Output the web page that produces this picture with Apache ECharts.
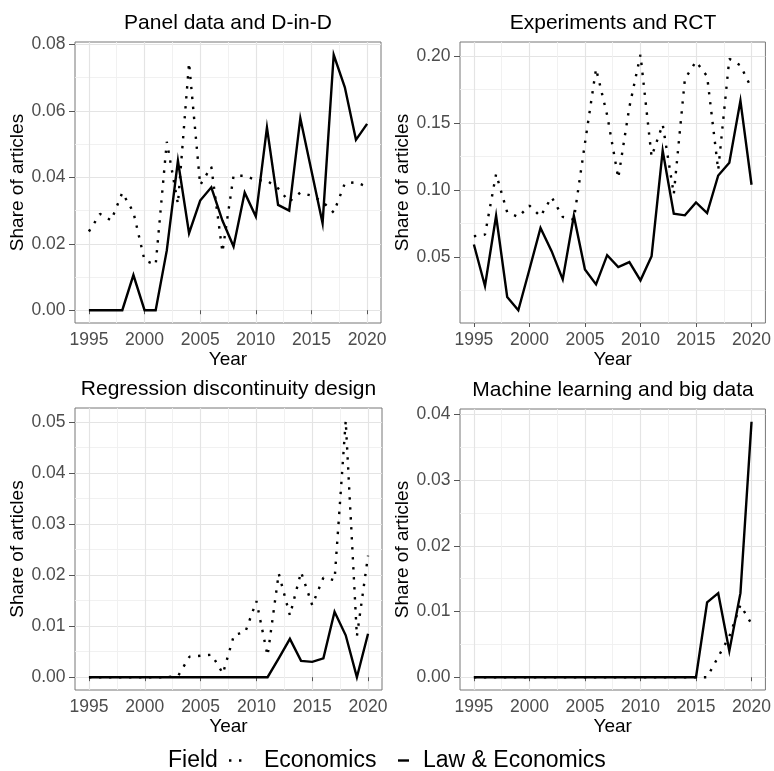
<!DOCTYPE html>
<html>
<head>
<meta charset="utf-8">
<script src="https://cdn.jsdelivr.net/npm/echarts@6/dist/echarts.min.js"></script>
<style>
  html, body { margin: 0; padding: 0; background: #ffffff; }
  #chart { width: 774px; height: 771px; }
</style>
</head>
<body>
<div id="chart"></div>
<script>
// Publication years shared by every panel
const years = [1995, 1996, 1997, 1998, 1999, 2000, 2001, 2002, 2003, 2004, 2005, 2006, 2007,
               2008, 2009, 2010, 2011, 2012, 2013, 2014, 2015, 2016, 2017, 2018, 2019, 2020];

// Year ticks (labelled) and the in-between grid lines
const yearTicks = [1995, 2000, 2005, 2010, 2015, 2020];
const yearMinorTicks = [1997.5, 2002.5, 2007.5, 2012.5, 2017.5];

// Panel data and D-in-D
const panelEcon = [0.0237, 0.0290, 0.0270, 0.0354, 0.0295, 0.0150, 0.0137, 0.0507, 0.0320, 0.0745,
                   0.0377, 0.0432, 0.0175, 0.0405, 0.0405, 0.0392, 0.0390, 0.0367, 0.0327, 0.0354,
                   0.0345, 0.0327, 0.0294, 0.0382, 0.0385, 0.0372];
const panelLaw  = [0, 0, 0, 0, 0.0106, 0, 0, 0.0180, 0.0450, 0.0232,
                   0.0330, 0.0370, 0.0270, 0.0192, 0.0354, 0.0282, 0.0550, 0.0317, 0.0300, 0.0578,
                   0.0420, 0.0262, 0.0769, 0.0671, 0.0513, 0.0561];
const panelTicks = [0, 0.02, 0.04, 0.06, 0.08];
const panelMinorTicks = [0.01, 0.03, 0.05, 0.07];

// Experiments and RCT
const rctEcon = [0.0656, 0.0668, 0.1120, 0.0835, 0.0800, 0.0885, 0.0804, 0.0948, 0.0800, 0.0780,
                 0.1350, 0.1906, 0.1560, 0.1090, 0.1620, 0.2010, 0.1250, 0.1490, 0.0970, 0.1830,
                 0.1960, 0.1850, 0.1150, 0.1980, 0.1930, 0.1760];
const rctLaw  = [0.0594, 0.0285, 0.0809, 0.0203, 0.0104, 0.0408, 0.0718, 0.0545, 0.0334, 0.0809,
                 0.0408, 0.0297, 0.0515, 0.0426, 0.0463, 0.0327, 0.0507, 0.1294, 0.0824, 0.0812,
                 0.0908, 0.0829, 0.1109, 0.1205, 0.1666, 0.1040];
const rctTicks = [0.05, 0.10, 0.15, 0.20];
const rctMinorTicks = [0.025, 0.075, 0.125, 0.175];

// Regression discontinuity design
const rddEcon = [0, 0, 0, 0, 0, 0, 0, 0, 0.0003, 0.0040,
                 0.0042, 0.0044, 0.0007, 0.0083, 0.0088, 0.0149, 0.0042, 0.0203, 0.0121, 0.0206,
                 0.0141, 0.0195, 0.0190, 0.0502, 0.0080, 0.0238];
const rddLaw  = [0, 0, 0, 0, 0, 0, 0, 0, 0, 0,
                 0, 0, 0, 0, 0, 0, 0, 0.0037, 0.0075, 0.0032,
                 0.0030, 0.0037, 0.0128, 0.0082, 0, 0.0085];
const rddTicks = [0, 0.01, 0.02, 0.03, 0.04, 0.05];
const rddMinorTicks = [0.005, 0.015, 0.025, 0.035, 0.045];

// Machine learning and big data
const mlEcon = [0, 0, 0, 0, 0, 0, 0, 0, 0, 0,
                0, 0, 0, 0, 0, 0, 0, 0, 0, 0,
                0, 0, 0.0031, 0.0062, 0.0110, 0.0081];
const mlLaw  = [0, 0, 0, 0, 0, 0, 0, 0, 0, 0,
                0, 0, 0, 0, 0, 0, 0, 0, 0, 0,
                0, 0.0114, 0.0128, 0.0040, 0.0128, 0.0389];
const mlTicks = [0, 0.01, 0.02, 0.03, 0.04];
const mlMinorTicks = [0.005, 0.015, 0.025, 0.035];

const panelTitles = ['Panel data and D-in-D', 'Experiments and RCT',
                     'Regression discontinuity design', 'Machine learning and big data'];
const seriesNames = ['Economics', 'Law & Economics'];
const legendTitle = 'Field';
const xTitle = 'Year';
const yTitle = 'Share of articles';

const panels = [
  { title: panelTitles[0], econ: panelEcon, law: panelLaw, ticks: panelTicks, minor: panelMinorTicks },
  { title: panelTitles[1], econ: rctEcon, law: rctLaw, ticks: rctTicks, minor: rctMinorTicks },
  { title: panelTitles[2], econ: rddEcon, law: rddLaw, ticks: rddTicks, minor: rddMinorTicks },
  { title: panelTitles[3], econ: mlEcon, law: mlLaw, ticks: mlTicks, minor: mlMinorTicks }
];

// Plot-area rectangles of the 2x2 layout
const boxes = [
  { left: 75,  top: 42,  width: 306, height: 281 },
  { left: 460, top: 42,  width: 306, height: 281 },
  { left: 75,  top: 408, width: 307, height: 282 },
  { left: 460, top: 409, width: 306, height: 281 }
];

const FONT = '"Liberation Sans", Arial, Helvetica, sans-serif';
const MAJOR_GRID = { color: '#e4e4e4', width: 1.2 };
const MINOR_GRID = { color: '#efefef', width: 0.9 };
const DOT = 2.4;

// 5% padding on each side of the data range, like a ggplot continuous scale
function padded(lo, hi) {
  const pad = (hi - lo) * 0.05;
  return [lo - pad, hi + pad];
}
const [xMin, xMax] = padded(Math.min(...years), Math.max(...years));

const option = {
  animation: false,
  backgroundColor: '#ffffff',
  textStyle: { fontFamily: FONT },
  title: [],
  grid: [],
  xAxis: [],
  yAxis: [],
  series: [],
  legend: []
};

panels.forEach((p, i) => {
  const b = boxes[i];
  const all = p.econ.concat(p.law);
  const [yMin, yMax] = padded(Math.min(...all), Math.max(...all));

  option.title.push({
    text: p.title,
    left: b.left + b.width / 2,
    top: b.top - 29.5,
    textAlign: 'center',
    padding: 0,
    textStyle: { fontFamily: FONT, fontSize: 21, fontWeight: 'normal', color: '#000000' }
  });

  option.grid.push({
    left: b.left, top: b.top, width: b.width, height: b.height,
    show: true, borderColor: '#777777', borderWidth: 1, backgroundColor: 'transparent',
    containLabel: false
  });

  // minor vertical grid lines
  option.xAxis.push({
    type: 'value', gridIndex: i, position: 'bottom', offset: 0, min: xMin, max: xMax,
    axisLine: { show: false },
    axisTick: { show: false, customValues: yearMinorTicks },
    axisLabel: { show: false, customValues: yearMinorTicks },
    splitLine: { show: true, lineStyle: MINOR_GRID }
  });
  const xIdx = option.xAxis.length;
  option.xAxis.push({
    type: 'value', gridIndex: i, position: 'bottom', offset: 0, min: xMin, max: xMax,
    name: xTitle, nameLocation: 'middle', nameGap: 27,
    nameTextStyle: { fontFamily: FONT, fontSize: 19, color: '#000000' },
    axisLine: { show: false },
    axisTick: { show: true, length: 4, customValues: yearTicks, lineStyle: { color: '#555555', width: 1 } },
    axisLabel: {
      customValues: yearTicks, color: '#4d4d4d', fontSize: 17.5, margin: 8, fontFamily: FONT,
      formatter: v => String(v)
    },
    splitLine: { show: true, lineStyle: MAJOR_GRID }
  });

  // minor horizontal grid lines
  option.yAxis.push({
    type: 'value', gridIndex: i, position: 'left', offset: 0, min: yMin, max: yMax,
    axisLine: { show: false },
    axisTick: { show: false, customValues: p.minor },
    axisLabel: { show: false, customValues: p.minor },
    splitLine: { show: true, lineStyle: MINOR_GRID }
  });
  const yIdx = option.yAxis.length;
  option.yAxis.push({
    type: 'value', gridIndex: i, position: 'left', offset: 0, min: yMin, max: yMax,
    name: yTitle, nameLocation: 'middle', nameGap: 47,
    nameTextStyle: { fontFamily: FONT, fontSize: 19, color: '#000000' },
    axisLine: { show: false },
    axisTick: { show: true, length: 6, customValues: p.ticks, lineStyle: { color: '#555555', width: 1 } },
    axisLabel: {
      customValues: p.ticks, color: '#4d4d4d', fontSize: 17.5, margin: 9.5, fontFamily: FONT,
      formatter: v => v.toFixed(2)
    },
    splitLine: { show: true, lineStyle: MAJOR_GRID }
  });

  // Economics: dotted line, drawn first
  option.series.push({
    name: seriesNames[0], type: 'line', xAxisIndex: xIdx, yAxisIndex: yIdx,
    data: years.map((y, k) => [y, p.econ[k]]),
    symbol: 'none', showSymbol: false, z: 3,
    itemStyle: { color: '#000000' },
    lineStyle: { color: '#000000', width: DOT, type: [DOT, 7.6], cap: 'butt' }
  });
  // Law & Economics: solid line on top
  option.series.push({
    name: seriesNames[1], type: 'line', xAxisIndex: xIdx, yAxisIndex: yIdx,
    data: years.map((y, k) => [y, p.law[k]]),
    symbol: 'none', showSymbol: false, z: 4,
    itemStyle: { color: '#000000' },
    lineStyle: { color: '#000000', width: 2.4, type: 'solid', join: 'miter' }
  });
});

// Legend row at the bottom: "Field" label then one key per field
option.title.push({
  text: legendTitle, left: 168, top: 749, padding: 0,
  textStyle: { fontFamily: FONT, fontSize: 23, fontWeight: 'normal', color: '#000000' }
});
option.legend.push({
  data: [{ name: seriesNames[0], icon: 'path://M0,0h2.4v2.4h-2.4z M10,0h2.4v2.4h-2.4z' }],
  left: 229, top: 749, padding: 0,
  itemWidth: 12.4, itemHeight: 2.4, selectedMode: false,
  itemStyle: { color: '#000000' },
  textStyle: { fontFamily: FONT, fontSize: 23, color: '#000000', padding: [0, 0, 0, 17.5] }
});
option.legend.push({
  data: [{ name: seriesNames[1], icon: 'rect' }],
  left: 398, top: 749, padding: 0,
  itemWidth: 11, itemHeight: 2.4, selectedMode: false,
  itemStyle: { color: '#000000' },
  textStyle: { fontFamily: FONT, fontSize: 23, color: '#000000', padding: [0, 0, 0, 9] }
});

const chart = echarts.init(document.getElementById('chart'), null, { renderer: 'canvas' });
chart.setOption(option);
</script>
</body>
</html>
